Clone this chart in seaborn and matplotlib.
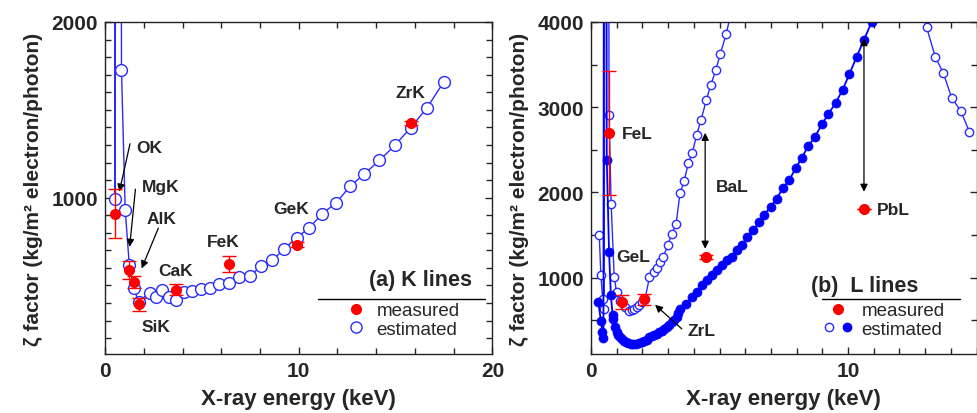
import numpy as np
import matplotlib
matplotlib.use("Agg")
import matplotlib.pyplot as plt
import seaborn as sns
from matplotlib.lines import Line2D
from matplotlib.legend_handler import HandlerTuple

# ---- (a) K lines: estimated zeta factors (open circles) ----
k_est_x = [0.392, 0.525, 0.677, 0.849, 1.041, 1.254, 1.487, 1.740, 2.307, 2.622,
           2.957, 3.312, 3.690, 4.090, 4.510, 4.952, 5.414, 5.898, 6.403, 6.930,
           7.478, 8.047, 8.638, 9.251, 9.886, 10.543, 11.222, 11.924, 12.648,
           13.395, 14.165, 14.958, 15.775, 16.615, 17.479]
k_est_y = [20000, 990, 20000, 1727, 932, 615, 483, 407, 460, 436,
           473, 432, 420, 464, 468, 479, 483, 511, 517, 549,
           552, 611, 644, 708, 771, 828, 909, 970, 1064,
           1136, 1212, 1297, 1398, 1510, 1657]

# measured K lines (red)
k_meas_x = [0.525, 1.254, 1.487, 1.740, 3.690, 6.404, 9.886, 15.775]
k_meas_y = [909, 587, 521, 392, 477, 621, 733, 1424]
k_meas_err = [140, 50, 33, 36, 32, 45, 12, 12]

# ---- (b) L lines: estimated, open circles (two branches, off-chart between) ----
l_open_x1 = [0.32, 0.38, 0.45, 0.51, 0.60, 0.70, 0.78, 0.90, 0.99, 1.13, 1.32, 1.49,
             1.58, 1.67, 1.78, 1.88, 1.99, 2.10, 2.27, 2.43, 2.56, 2.68, 2.81, 2.98,
             3.14, 3.31, 3.46, 3.62, 3.79, 3.94, 4.11, 4.28, 4.49, 4.66, 4.86, 5.03,
             5.26, 5.55]
l_open_y1 = [1497, 1035, 753, 635, 20000, 2909, 1870, 1010, 832, 727, 660, 604,
             620, 635, 660, 682, 714, 753, 1004, 1067, 1114, 1184, 1243, 1380,
             1509, 1635, 1988, 2133, 2349, 2465, 2678, 2850, 3090, 3262, 3442, 3628,
             3858, 4250]
l_open_x2 = [12.85, 13.06, 13.39, 13.71, 14.04, 14.39, 14.72]
l_open_y2 = [4300, 3937, 3595, 3399, 3105, 2956, 2713]

# estimated, filled circles
l_fill_x = [0.28, 0.38, 0.44, 0.48, 0.55, 0.61, 0.70, 0.77, 0.84, 0.87, 0.93, 1.00,
            1.06, 1.12, 1.19, 1.27, 1.36, 1.45, 1.54, 1.64, 1.75, 1.86, 1.97, 2.07,
            2.17, 2.27, 2.36, 2.46, 2.56, 2.65, 2.75, 2.85, 2.95, 3.05, 3.14, 3.24,
            3.33, 3.40, 3.46, 3.70, 3.92, 4.11, 4.31, 4.50, 4.70, 4.89, 5.09, 5.28,
            5.47, 5.67, 5.86, 6.08, 6.32, 6.54, 6.74, 6.99, 7.22, 7.46, 7.72, 7.96,
            8.20, 8.46, 8.72, 8.98, 9.23, 9.52, 9.79, 10.05, 10.34, 10.62, 10.92]
l_fill_y = [714, 498, 361, 291, 20000, 2380, 1300, 792, 560, 518, 420, 361,
            330, 305, 283, 262, 244, 232, 224, 222, 224, 232, 244, 257,
            271, 300, 322, 332, 341, 360, 380, 400, 420, 450, 479, 508,
            538, 590, 635, 694, 773, 832, 910, 968, 1027, 1086, 1153, 1204,
            1243, 1321, 1380, 1479, 1556, 1655, 1741, 1831, 1929, 2047, 2152, 2282,
            2408, 2549, 2655, 2799, 2917, 3054, 3203, 3387, 3595, 3791, 3999]

# measured L lines (red)
l_meas_x = [0.705, 1.188, 2.042, 4.466, 10.62]
l_meas_y = [2694, 714, 745, 1243, 1803]
l_meas_err = [728, 80, 60, 22, 0]

# label texts and their anchor points
k_labels = [("OK", 1.6, 1288), ("MgK", 1.89, 1061), ("AlK", 2.15, 881),
            ("SiK", 1.89, 266), ("CaK", 2.75, 587), ("FeK", 5.27, 748),
            ("GeK", 8.71, 938), ("ZrK", 14.98, 1600)]
k_arrows = [((1.29, 1307), (0.74, 1034)), ((1.57, 1048), (1.27, 720)),
            ((2.75, 826), (1.89, 597))]
l_labels = [("FeL", 1.2, 2694), ("GeL", 0.98, 1243), ("ZrL", 3.75, 380),
            ("BaL", 4.86, 2066), ("PbL", 11.12, 1803)]

sns.set_style("ticks")
plt.rcParams['font.family'] = ['Liberation Sans', 'DejaVu Sans']

BLUE_O = '#2b2bff'
BLUE_F = '#0000ff'
RED = '#ff0000'

fig = plt.figure(figsize=(9.77, 4.14), dpi=100)
ax1 = fig.add_axes([0.1075, 0.1425, 0.3965, 0.802])
ax2 = fig.add_axes([0.605, 0.1425, 0.3945, 0.802])

# ---------------- panel (a) ----------------
sns.lineplot(x=k_est_x, y=k_est_y, ax=ax1, sort=False, estimator=None,
             color=BLUE_O, lw=1, marker='o', ms=8.5, mfc='white', mec=BLUE_O, mew=1)
ax1.errorbar(k_meas_x, k_meas_y, yerr=k_meas_err, fmt='o', color=RED, ms=7,
             capsize=5, elinewidth=1, capthick=1, zorder=5)
for txt, x, y in k_labels:
    ax1.text(x, y, txt, fontsize=12.5, fontweight='bold', va='center', ha='left')
for (tx, ty), (hx, hy) in k_arrows:
    ax1.annotate('', xy=(hx, hy), xytext=(tx, ty),
                 arrowprops=dict(arrowstyle='-|>', color='black', lw=0.9,
                                 mutation_scale=11, shrinkA=0, shrinkB=0))
ax1.set_xlim(0, 20)
ax1.set_ylim(110, 2000)
ax1.set_xticks([0, 10, 20])
ax1.set_xticks(np.arange(0, 21, 2), minor=True)
ax1.set_yticks([1000, 2000])
ax1.set_yticks(np.arange(200, 2001, 100), minor=True)

ax1.text(0.814, 0.223, "(a) K lines", transform=ax1.transAxes, fontsize=15.5,
         fontweight='bold', ha='center', va='center')
ax1.plot([0.55, 0.982], [0.166, 0.166], transform=ax1.transAxes, color='black', lw=1)
h_meas = Line2D([], [], ls='none', marker='o', ms=7, color=RED)
h_open = Line2D([], [], ls='none', marker='o', ms=8, mfc='white', mec=BLUE_O, mew=1)
ax1.legend([h_meas, h_open], ['measured', 'estimated'], loc='lower left',
           bbox_to_anchor=(0.585, 0.01), frameon=False, fontsize=13.5,
           handlelength=1.2, handletextpad=0.5, labelspacing=0.05, borderpad=0.2)

# ---------------- panel (b) ----------------
sns.lineplot(x=l_open_x1, y=l_open_y1, ax=ax2, sort=False, estimator=None,
             color=BLUE_O, lw=1, marker='o', ms=6, mfc='white', mec=BLUE_O, mew=1)
sns.lineplot(x=l_open_x2, y=l_open_y2, ax=ax2, sort=False, estimator=None,
             color=BLUE_O, lw=1, marker='o', ms=6, mfc='white', mec=BLUE_O, mew=1)
sns.lineplot(x=l_fill_x, y=l_fill_y, ax=ax2, sort=False, estimator=None,
             color=BLUE_F, lw=1.3, marker='o', ms=6.5, mfc=BLUE_F, mec=BLUE_F, mew=0.5)
ax2.errorbar(l_meas_x, l_meas_y, yerr=l_meas_err, fmt='o', color=RED, ms=7,
             capsize=5, elinewidth=1, capthick=1, zorder=5)
for txt, x, y in l_labels:
    ax2.text(x, y, txt, fontsize=12.5, fontweight='bold', va='center', ha='left')
ax2.annotate('', xy=(2.49, 682), xytext=(3.53, 400),
             arrowprops=dict(arrowstyle='-|>', color='black', lw=0.9,
                             mutation_scale=11, shrinkA=0, shrinkB=0))
for xa, ylo, yhi in [(4.44, 1340, 2700), (10.62, 2008, 3811)]:
    ax2.annotate('', xy=(xa, yhi), xytext=(xa, ylo),
                 arrowprops=dict(arrowstyle='<|-|>', color='black', lw=0.9,
                                 mutation_scale=11, shrinkA=0, shrinkB=0))
ax2.set_xlim(0, 15)
ax2.set_ylim(105, 4000)
ax2.set_xticks([0, 10])
ax2.set_xticks(np.arange(0, 16, 1), minor=True)
ax2.set_yticks([1000, 2000, 3000, 4000])
ax2.set_yticks(np.arange(500, 4001, 500), minor=True)

ax2.text(0.711, 0.205, "(b)  L lines", transform=ax2.transAxes, fontsize=15.5,
         fontweight='bold', ha='center', va='center')
ax2.plot([0.60, 0.957], [0.166, 0.166], transform=ax2.transAxes, color='black', lw=1)
h_fill = Line2D([], [], ls='none', marker='o', ms=6, color=BLUE_F)
h_open2 = Line2D([], [], ls='none', marker='o', ms=6, mfc='white', mec=BLUE_O, mew=1)
ax2.legend([h_meas, (h_open2, h_fill)], ['measured', 'estimated'], loc='lower left',
           bbox_to_anchor=(0.565, 0.01), frameon=False, fontsize=13.5,
           handler_map={tuple: HandlerTuple(ndivide=None, pad=0.3)},
           handlelength=1.7, handletextpad=0.4, labelspacing=0.05, borderpad=0.2)

for ax in (ax1, ax2):
    ax.tick_params(which='both', direction='in', top=True, right=True,
                   labelsize=15, width=1, pad=5)
    ax.tick_params(which='major', length=5)
    ax.tick_params(which='minor', length=4)
    for lab in ax.get_xticklabels() + ax.get_yticklabels():
        lab.set_fontweight('bold')
    for sp in ax.spines.values():
        sp.set_linewidth(1)
        sp.set_color('#222222')
    ax.set_xlabel("X-ray energy (keV)", fontsize=16, fontweight='bold', labelpad=6)
    ax.set_ylabel("\u03b6 factor (kg/m\u00b2 electron/photon)", fontsize=15,
                  fontweight='bold', labelpad=6)

fig.savefig("out.png", dpi=100)
